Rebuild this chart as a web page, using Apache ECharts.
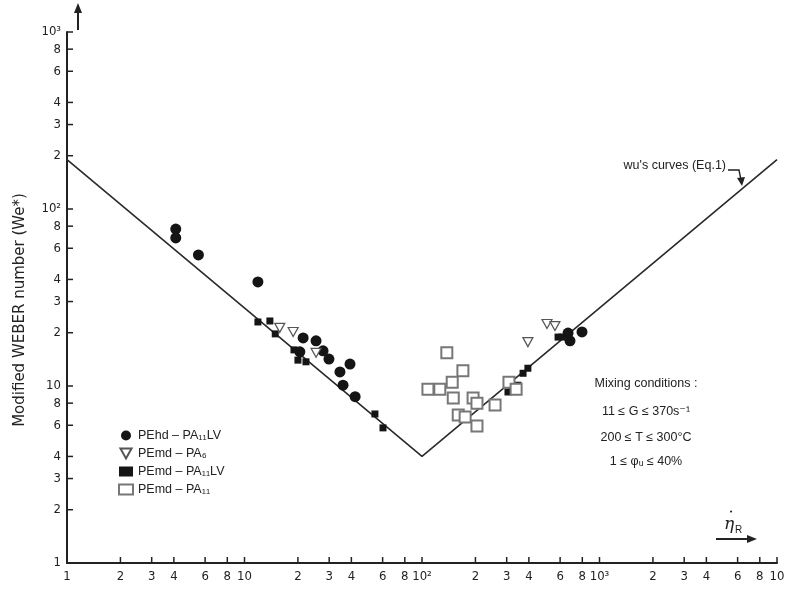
<!DOCTYPE html>
<html>
<head>
<meta charset="utf-8">
<script src="https://cdn.jsdelivr.net/npm/echarts@6/dist/echarts.min.js"></script>
<style>
  html, body { margin: 0; padding: 0; background: #fff; }
  #chart { width: 787px; height: 596px; }
</style>
</head>
<body>
<div id="chart"></div>
<script>
  // Wu's curve (V shape, log-log)
  const curveX = [1, 100, 10000]
  const curveY = [190, 4, 190]

  // PEhd - PA11LV (large filled circles)
  const pehdPa11lv = [
    [4.1, 77], [4.1, 68.6], [5.5, 55], [11.9, 38.7],
    [21.4, 18.7], [25.3, 18.0], [20.5, 15.6], [27.7, 15.8], [29.9, 14.2],
    [34.5, 12.0], [39.3, 13.3], [35.9, 10.1], [42.0, 8.7],
    [665, 19.9], [682, 18.0], [797, 20.2]
  ]
  // PEmd - PA6 (open down triangles)
  const pemdPa6 = [
    [15.8, 21.3], [18.8, 20.2], [25.3, 15.4],
    [395, 17.7], [506, 22.4], [561, 21.8]
  ]
  // PEmd - PA11LV (small filled squares)
  const pemdPa11lv = [
    [11.9, 23.0], [13.9, 23.3], [14.9, 19.7], [19.0, 16.0], [20.0, 14.0], [22.2, 13.7],
    [54.3, 6.95], [60.3, 5.8],
    [305, 9.25], [321, 10.0], [347, 10.1], [371, 11.8], [395, 12.6], [584, 18.9], [615, 18.9]
  ]
  // PEmd - PA11 (open squares)
  const pemdPa11 = [
    [138, 15.4], [170, 12.2], [148, 10.5], [108, 9.6], [126, 9.6], [150, 8.55],
    [194, 8.55], [204, 8.0], [258, 7.8], [160, 6.86], [175, 6.68], [204, 5.94],
    [309, 10.5], [339, 9.6]
  ]

  const xTicks = [1, 2, 3, 4, 6, 8, 10, 20, 30, 40, 60, 80, 100, 200, 300, 400, 600, 800,
    1000, 2000, 3000, 4000, 6000, 8000, 10000]
  const xTickLabels = ['1', '2', '3', '4', '6', '8', '10', '2', '3', '4', '6', '8', '10²',
    '2', '3', '4', '6', '8', '10³', '2', '3', '4', '6', '8', '10']
  const yTicks = [1, 2, 3, 4, 6, 8, 10, 20, 30, 40, 60, 80, 100, 200, 300, 400, 600, 800, 1000]
  const yTickLabels = ['1', '2', '3', '4', '6', '8', '10', '2', '3', '4', '6', '8', '10²',
    '2', '3', '4', '6', '8', '10³']

  const ink = '#222'
  const tickFont = "13px 'Liberation Sans Narrow', 'DejaVu Sans Condensed', 'Liberation Sans', sans-serif"
  const noteFont = "12.5px 'Liberation Sans', 'DejaVu Sans', sans-serif"
  const downTriangle = 'path://M0,0 L10,0 L5,9 Z'

  const chart = echarts.init(document.getElementById('chart'))

  // tick marks + labels on the x axis (log scale ticks 2,3,4,6,8 per decade)
  const renderXTick = (params, api) => {
    const p = api.coord([api.value(0), 1])
    const i = params.dataIndex
    const children = [{
      type: 'text', x: p[0], y: p[1] + 7,
      style: { text: xTickLabels[i], font: tickFont, fill: ink, align: 'center', verticalAlign: 'top' }
    }]
    if (i > 0) {
      children.push({
        type: 'line',
        shape: { x1: p[0], y1: p[1], x2: p[0], y2: p[1] - 6 },
        style: { stroke: ink, lineWidth: 1.5 }
      })
    }
    return { type: 'group', children }
  }

  const renderYTick = (params, api) => {
    const p = api.coord([1, api.value(1)])
    const i = params.dataIndex
    const children = [{
      type: 'text', x: p[0] - 6, y: p[1],
      style: { text: yTickLabels[i], font: tickFont, fill: ink, align: 'right', verticalAlign: 'middle' }
    }]
    if (i > 0) {
      children.push({
        type: 'line',
        shape: { x1: p[0], y1: p[1], x2: p[0] + 6, y2: p[1] },
        style: { stroke: ink, lineWidth: 1.5 }
      })
    }
    return { type: 'group', children }
  }

  const option = {
    animation: false,
    backgroundColor: '#fff',
    grid: { left: 67, right: 10, top: 32, bottom: 33 },
    xAxis: {
      type: 'log', logBase: 10, min: 1, max: 10000,
      axisLine: { lineStyle: { color: ink, width: 2 } },
      axisTick: { show: false },
      axisLabel: { show: false },
      splitLine: { show: false }
    },
    yAxis: {
      type: 'log', logBase: 10, min: 1, max: 1000,
      axisLine: { show: true, lineStyle: { color: ink, width: 2 } },
      axisTick: { show: false },
      axisLabel: { show: false },
      splitLine: { show: false }
    },
    legend: {
      orient: 'vertical',
      left: 113,
      top: 424,
      itemWidth: 14,
      itemHeight: 10,
      itemGap: 5,
      textStyle: { fontSize: 12.5, color: ink, fontFamily: "'Liberation Sans', sans-serif" },
      data: ['PEhd – PA₁₁LV', 'PEmd – PA₆', 'PEmd – PA₁₁LV ', 'PEmd – PA₁₁']
    },
    series: [
      {
        name: 'curve', type: 'line', data: curveX.map((x, i) => [x, curveY[i]]),
        symbol: 'none', lineStyle: { color: '#2a2a2a', width: 1.6 }, silent: true, z: 1
      },
      {
        name: 'PEhd – PA₁₁LV', type: 'scatter', data: pehdPa11lv,
        symbol: 'circle', symbolSize: 11, itemStyle: { color: '#151515', opacity: 1 }, z: 3
      },
      {
        name: 'PEmd – PA₆', type: 'scatter', data: pemdPa6,
        symbol: downTriangle, symbolSize: [10, 9],
        itemStyle: { color: '#fff', borderColor: '#555', borderWidth: 1.2, opacity: 1 }, z: 4
      },
      {
        name: 'PEmd – PA₁₁LV ', type: 'scatter', data: pemdPa11lv,
        symbol: 'rect', symbolSize: 7, itemStyle: { color: '#151515', opacity: 1 }, z: 3
      },
      {
        name: 'PEmd – PA₁₁', type: 'scatter', data: pemdPa11,
        symbol: 'emptyRect', symbolSize: 11,
        itemStyle: { color: '#777', borderColor: '#777', borderWidth: 1.1, opacity: 1 }, z: 4
      },
      {
        type: 'custom', data: xTicks.map(v => [v, 1]), renderItem: renderXTick,
        clip: false, silent: true, z: 5, encode: { x: 0, y: 1 }
      },
      {
        type: 'custom', data: yTicks.map(v => [1, v]), renderItem: renderYTick,
        clip: false, silent: true, z: 5, encode: { x: 0, y: 1 }
      }
    ],
    graphic: [
      // y axis title
      {
        type: 'text', x: 20, y: 310, rotation: Math.PI / 2,
        style: {
          text: 'Modified WEBER number (We*)', fill: ink,
          font: "15px 'DejaVu Sans', sans-serif", align: 'center', verticalAlign: 'middle'
        }
      },
      // arrow next to y axis
      { type: 'line', shape: { x1: 78, y1: 30, x2: 78, y2: 10 }, style: { stroke: ink, lineWidth: 2 } },
      { type: 'polygon', shape: { points: [[74, 13], [78, 3], [82, 13]] }, style: { fill: ink } },
      // x axis variable with arrow
      {
        type: 'text', x: 724, y: 525,
        style: { text: 'η', fill: ink, font: "italic 17px 'DejaVu Serif', serif", align: 'left', verticalAlign: 'middle' }
      },
      {
        type: 'text', x: 729, y: 512,
        style: { text: '•', fill: ink, font: "7px 'DejaVu Sans', sans-serif", align: 'left', verticalAlign: 'middle' }
      },
      {
        type: 'text', x: 735, y: 530,
        style: { text: 'R', fill: ink, font: "10px 'Liberation Sans', sans-serif", align: 'left', verticalAlign: 'middle' }
      },
      { type: 'line', shape: { x1: 716, y1: 539, x2: 750, y2: 539 }, style: { stroke: ink, lineWidth: 2 } },
      { type: 'polygon', shape: { points: [[747, 535], [757, 539], [747, 543]] }, style: { fill: ink } },
      // Wu's curves note
      {
        type: 'text', x: 726, y: 166,
        style: { text: "wu's curves (Eq.1)", fill: ink, font: noteFont, align: 'right', verticalAlign: 'middle' }
      },
      {
        type: 'polyline', shape: { points: [[728, 170], [739, 170], [741, 180]] },
        style: { stroke: ink, lineWidth: 1.4, fill: null }
      },
      { type: 'polygon', shape: { points: [[737, 178], [742, 186], [745, 177]] }, style: { fill: ink } },
      // mixing conditions
      {
        type: 'text', x: 646, y: 384,
        style: { text: 'Mixing conditions :', fill: ink, font: noteFont, align: 'center', verticalAlign: 'middle' }
      },
      {
        type: 'text', x: 646, y: 412,
        style: { text: '11 ≤ G ≤ 370s⁻¹', fill: ink, font: noteFont, align: 'center', verticalAlign: 'middle' }
      },
      {
        type: 'text', x: 646, y: 438,
        style: { text: '200 ≤ T ≤ 300°C', fill: ink, font: noteFont, align: 'center', verticalAlign: 'middle' }
      },
      {
        type: 'text', x: 646, y: 462,
        style: { text: '1 ≤ φᵤ ≤ 40%', fill: ink, font: noteFont, align: 'center', verticalAlign: 'middle' }
      }
    ]
  }

  chart.setOption(option)
</script>
</body>
</html>
